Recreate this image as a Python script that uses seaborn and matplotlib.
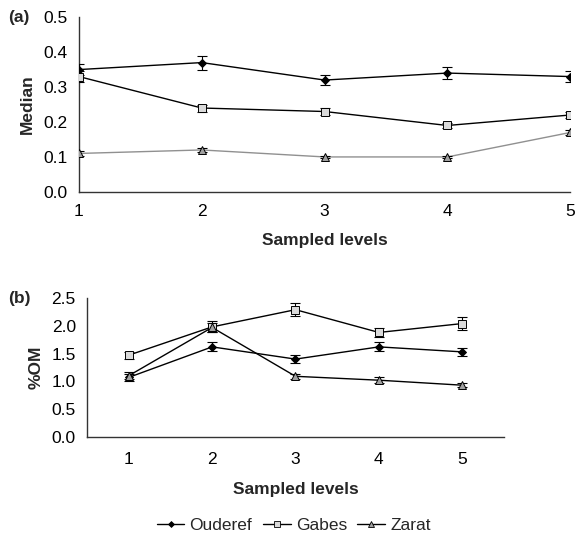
import numpy as np
import pandas as pd
import matplotlib
matplotlib.use('Agg')
import matplotlib.pyplot as plt
import seaborn as sns
from matplotlib.lines import Line2D

# Data
levels = [1, 2, 3, 4, 5]
sites = ['Ouderef', 'Gabes', 'Zarat']

median_vals = {
    'Ouderef': [0.35, 0.37, 0.32, 0.34, 0.33],
    'Gabes': [0.33, 0.24, 0.23, 0.19, 0.22],
    'Zarat': [0.11, 0.12, 0.10, 0.10, 0.17],
}
median_err = {
    'Ouderef': [0.015, 0.02, 0.015, 0.018, 0.015],
    'Gabes': [0.015, 0.01, 0.01, 0.007, 0.01],
    'Zarat': [0.006, 0.005, 0.004, 0.004, 0.008],
}
om_vals = {
    'Ouderef': [1.07, 1.62, 1.40, 1.62, 1.53],
    'Gabes': [1.47, 1.98, 2.29, 1.88, 2.04],
    'Zarat': [1.10, 1.97, 1.09, 1.02, 0.93],
}
om_err = {
    'Ouderef': [0.07, 0.08, 0.07, 0.08, 0.07],
    'Gabes': [0.06, 0.10, 0.12, 0.08, 0.11],
    'Zarat': [0.06, 0.08, 0.05, 0.05, 0.04],
}


def to_frame(vals, errs):
    rows = []
    for s in sites:
        for lv, v, e in zip(levels, vals[s], errs[s]):
            rows.append({'level': lv, 'value': v, 'err': e, 'site': s})
    return pd.DataFrame(rows)


sns.set_style('white')
plt.rcParams['font.family'] = ['Liberation Sans', 'DejaVu Sans']
plt.rcParams['font.size'] = 12

FS = 12.5
markers = {'Ouderef': 'D', 'Gabes': 's', 'Zarat': '^'}
mfc = {'Ouderef': 'black', 'Gabes': '#d9d9d9', 'Zarat': '#a0a0a0'}
msize = {'Ouderef': 4.5, 'Gabes': 5.5, 'Zarat': 5.5}

fig = plt.figure(figsize=(5.76, 5.36), dpi=100)
ax1 = fig.add_axes([0.137, 0.642, 0.853, 0.326])
ax2 = fig.add_axes([0.151, 0.185, 0.724, 0.259])


def draw(ax, df, line_colors):
    sns.lineplot(data=df, x='level', y='value', hue='site', ax=ax,
                 palette=line_colors, lw=1, legend=False, sort=False,
                 estimator=None)
    for s in sites:
        d = df[df['site'] == s]
        ax.errorbar(d['level'], d['value'], yerr=d['err'], fmt='none',
                    ecolor='black', elinewidth=0.8, capsize=3.5,
                    capthick=0.8, zorder=3)
        ax.plot(d['level'], d['value'], ls='none', marker=markers[s],
                ms=msize[s], mfc=mfc[s], mec='black', mew=0.7, zorder=4)
    for side in ['top', 'right']:
        ax.spines[side].set_visible(False)
    for side in ['left', 'bottom']:
        ax.spines[side].set_color('#333333')
        ax.spines[side].set_linewidth(1.0)
    ax.set_xlabel('Sampled levels', fontweight='bold', fontsize=FS)
    ax.tick_params(axis='both', direction='out', length=4.5, width=1.0,
                   labelsize=FS, colors='#333333', labelcolor='black')


# (a) Median
df1 = to_frame(median_vals, median_err)
draw(ax1, df1, {'Ouderef': 'black', 'Gabes': 'black', 'Zarat': '#909090'})
ax1.set_xlim(1, 5)
ax1.set_ylim(0, 0.5)
ax1.set_xticks(levels)
ax1.set_yticks(np.arange(0, 0.51, 0.1))
ax1.yaxis.set_major_formatter(plt.FormatStrFormatter('%.1f'))
ax1.set_ylabel('Median', fontweight='bold', fontsize=FS, labelpad=6)
ax1.tick_params(axis='x', pad=4)
ax1.xaxis.labelpad = 10
ax1.text(0.014, 0.968, '(a)', transform=fig.transFigure, fontweight='bold',
         fontsize=FS, ha='left', va='center')

# (b) %OM
df2 = to_frame(om_vals, om_err)
draw(ax2, df2, {'Ouderef': 'black', 'Gabes': 'black', 'Zarat': 'black'})
ax2.set_xlim(0.5, 5.5)
ax2.set_ylim(0, 2.5)
ax2.set_xticks(levels)
ax2.set_xticks(np.arange(0.5, 5.6, 1), minor=True)
ax2.tick_params(axis='x', which='major', length=0, pad=11)
ax2.tick_params(axis='x', which='minor', direction='out', length=4.5,
                width=1.0, colors='#333333')
ax2.set_yticks(np.arange(0, 2.51, 0.5))
ax2.yaxis.set_major_formatter(plt.FormatStrFormatter('%.1f'))
ax2.set_ylabel('%OM', fontweight='bold', fontsize=FS, labelpad=6)
ax2.xaxis.labelpad = 11
ax2.text(0.014, 0.444, '(b)', transform=fig.transFigure, fontweight='bold',
         fontsize=FS, ha='left', va='center')

handles = [Line2D([], [], color='black', lw=1, marker=markers[s],
                  ms=msize[s] - 1.5, mfc=mfc[s], mec='black', mew=0.6)
           for s in sites]
fig.legend(handles, sites, loc='center', bbox_to_anchor=(0.51, 0.02),
           ncol=3, frameon=False, fontsize=FS, handlelength=1.6,
           handletextpad=0.3, columnspacing=0.6, borderaxespad=0)

fig.savefig('out.png', dpi=100)
